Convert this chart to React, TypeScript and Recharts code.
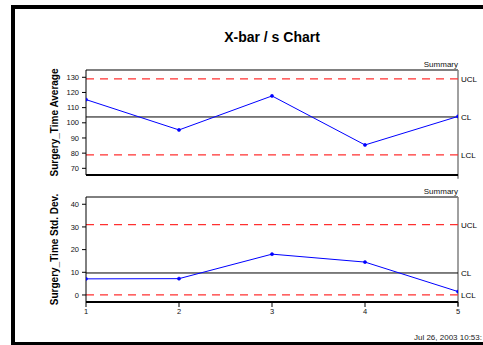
import React from 'react';
import { LineChart, Line, XAxis, YAxis, ReferenceLine } from 'recharts';

const categories = [1, 2, 3, 4, 5];
const xbarValues = [115.3, 95.3, 117.7, 85.4, 104.2];
const sValues = [7.1, 7.2, 18.0, 14.5, 1.5];

const xbarUCL = 128.9;
const xbarCL = 103.85;
const xbarLCL = 78.8;
const sUCL = 31.0;
const sCL = 9.7;
const sLCL = 0;

const xbarTicks = [70, 80, 90, 100, 110, 120, 130];
const sTicks = [0, 10, 20, 30, 40];
const xbarDomain = [65.6, 134.8];
const sDomain = [-3.1, 43.2];

const titleText = 'X-bar / s Chart';
const xbarTitle = 'Surgery_Time Average';
const sTitle = 'Surgery_Time Std. Dev.';
const dateText = 'Jul 26, 2003 10:53:';

const xbarData = categories.map((c, i) => ({ sample: c, value: xbarValues[i] }));
const sData = categories.map((c, i) => ({ sample: c, value: sValues[i] }));

const FONT = '"Liberation Sans", Arial, sans-serif';
const RED = '#ff3030';
const GRAY = '#808080';

const summaryLabel = (props: any) => {
  const vb = props.viewBox || {};
  return (
    <text x={(vb.x || 0) + (vb.width || 0)} y={(vb.y || 0) - 3} textAnchor="end" fontSize={8} fill="#111" fontFamily={FONT}>
      Summary
    </text>
  );
};

const limitLabel = (v: string) => (props: any) => {
  const vb = props.viewBox || {};
  return (
    <text x={(vb.x || 0) + (vb.width || 0) + 3} y={(vb.y || 0) + 3} textAnchor="start" fontSize={8} fill="#000" fontFamily={FONT}>
      {v}
    </text>
  );
};

export default function App() {
  return (
    <div style={{ position: 'absolute', left: 0, top: 0, width: 483, height: 345, overflow: 'hidden', fontFamily: FONT, background: '#fff' }}>
      <div style={{ position: 'absolute', left: 11, top: 5, width: 600, height: 341, boxSizing: 'border-box', border: '4px solid #000' }} />
      <div style={{ position: 'absolute', left: 0, top: 0 }}>
        <LineChart width={483} height={190} data={xbarData} margin={{ top: 70, right: 25, left: 0, bottom: 10 }}>
          <XAxis dataKey="sample" type="number" domain={[1, 5]} ticks={categories} tick={false} tickSize={4} height={5}
            axisLine={{ stroke: '#000', strokeWidth: 2 }} tickLine={{ stroke: '#000' }} allowDataOverflow />
          <YAxis type="number" domain={xbarDomain} ticks={xbarTicks} width={86} tickSize={4} tickMargin={3}
            tick={{ fontSize: 7.5, fill: '#111' }} axisLine={{ stroke: '#000' }} tickLine={{ stroke: '#000' }} allowDataOverflow />
          <ReferenceLine y={xbarDomain[1]} stroke={GRAY} strokeWidth={2} label={summaryLabel} />
          <ReferenceLine segment={[{ x: 5, y: xbarDomain[1] }, { x: 5, y: xbarDomain[0] - 2.5 }]} stroke={GRAY} strokeWidth={1.5} ifOverflow="visible" />
          <ReferenceLine y={xbarUCL} stroke={RED} strokeWidth={1.3} strokeDasharray="8 6" label={limitLabel('UCL')} />
          <ReferenceLine y={xbarCL} stroke="#000" strokeWidth={1} label={limitLabel('CL')} />
          <ReferenceLine y={xbarLCL} stroke={RED} strokeWidth={1.3} strokeDasharray="8 6" label={limitLabel('LCL')} />
          <Line dataKey="value" stroke="#0000ff" strokeWidth={1} dot={{ r: 1.6, fill: '#0000ff', stroke: '#0000ff', strokeWidth: 0.5 }} isAnimationActive={false} />
        </LineChart>
      </div>
      <div style={{ position: 'absolute', left: 0, top: 0 }}>
        <LineChart width={483} height={345} data={sData} margin={{ top: 197, right: 25, left: 0, bottom: 23 }}>
          <XAxis dataKey="sample" type="number" domain={[1, 5]} ticks={categories} tickSize={5} tickMargin={2} height={20}
            tick={{ fontSize: 7.5, fill: '#111' }} axisLine={{ stroke: '#000', strokeWidth: 2 }} tickLine={{ stroke: '#000' }} allowDataOverflow />
          <YAxis type="number" domain={sDomain} ticks={sTicks} width={86} tickSize={4} tickMargin={3}
            tick={{ fontSize: 7.5, fill: '#111' }} axisLine={{ stroke: '#000' }} tickLine={{ stroke: '#000' }} allowDataOverflow />
          <ReferenceLine y={sDomain[1]} stroke="#000" strokeWidth={1} label={summaryLabel} />
          <ReferenceLine segment={[{ x: 5, y: sDomain[1] }, { x: 5, y: sDomain[0] - 1.8 }]} stroke={GRAY} strokeWidth={1.5} ifOverflow="visible" />
          <ReferenceLine y={sUCL} stroke={RED} strokeWidth={1.3} strokeDasharray="8 6" label={limitLabel('UCL')} />
          <ReferenceLine y={sCL} stroke="#000" strokeWidth={1} label={limitLabel('CL')} />
          <ReferenceLine y={sLCL} stroke={RED} strokeWidth={1.3} strokeDasharray="8 6" label={limitLabel('LCL')} />
          <Line dataKey="value" stroke="#0000ff" strokeWidth={1} dot={{ r: 1.6, fill: '#0000ff', stroke: '#0000ff', strokeWidth: 0.5 }} isAnimationActive={false} />
        </LineChart>
      </div>
      <svg width={483} height={345} style={{ position: 'absolute', left: 0, top: 0, pointerEvents: 'none' }}>
        <text x={272} y={42} textAnchor="middle" fontSize={14} fontWeight="bold" fill="#000" fontFamily={FONT}>{titleText}</text>
        <text x={0} y={0} transform="translate(58,122.5) rotate(-90)" textAnchor="middle" fontSize={10} fontWeight="bold" fill="#000" fontFamily={FONT}>{xbarTitle}</text>
        <text x={0} y={0} transform="translate(58,249.5) rotate(-90)" textAnchor="middle" fontSize={10} fontWeight="bold" fill="#000" fontFamily={FONT}>{sTitle}</text>
        <text x={482} y={340} textAnchor="end" fontSize={8} fill="#222" fontFamily={FONT}>{dateText}</text>
      </svg>
    </div>
  );
}
